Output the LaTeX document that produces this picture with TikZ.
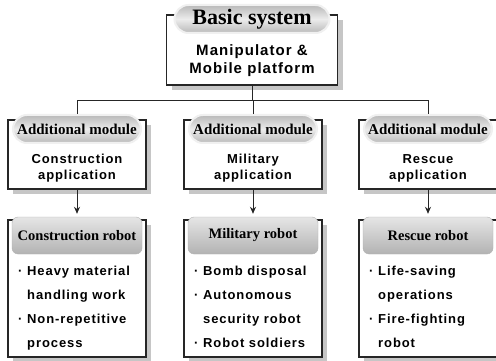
\documentclass[tikz,border=0pt]{standalone}
\usepackage{fontspec}
\setmainfont{Liberation Serif}
\newfontfamily\bodyfont[LetterSpace=7]{Liberation Sans}
\usepackage{tikz}
\usetikzlibrary{shapes,arrows,arrows.meta,positioning,shadows}

\newcommand{\itm}{\makebox[9pt][l]{·}}
\newcommand{\cont}{\hspace*{9pt}}

\begin{document}
\begin{tikzpicture}[
    x=1pt, y=-1pt,
    frame/.style={draw=black!85, line width=1.3pt, fill=white, minimum width=138pt, inner sep=0pt,
        drop shadow={shadow xshift=5pt, shadow yshift=-5pt, fill=gray!45, opacity=1}},
    pill/.style={draw=gray!12, line width=2pt, rounded corners=14pt, top color=gray!55, bottom color=gray!55, middle color=gray!15,
        minimum width=128pt, minimum height=28pt, inner sep=0pt, font=\bfseries\fontsize{15}{15}\selectfont},
    headbox/.style={draw=gray!60, thin, rounded corners=6pt, top color=gray!20, bottom color=gray!60,
        minimum width=130pt, minimum height=37pt, inner sep=0pt, font=\bfseries\fontsize{14.5}{14.5}\selectfont},
    modtext/.style={align=center, inner sep=0pt, font=\bodyfont\bfseries\fontsize{13}{16}\selectfont},
    itemtext/.style={align=left, anchor=north west, inner sep=0pt, font=\bodyfont\bfseries\fontsize{13}{24}\selectfont},
    line/.style={draw=black!85, line width=0.9pt},
    arrow/.style={-{Stealth[length=7pt,width=6pt]}, line width=0.9pt, color=black!85, shorten >=3pt}
]
    \useasboundingbox (0,0) rectangle (496,361);

    % basic system
    \node[frame, minimum width=171pt, minimum height=70pt] (base) at (252,50) {};
    \node[pill, minimum width=155pt, font=\bfseries\fontsize{22}{22}\selectfont] (basetitle) at (252,19) {Basic system};
    \node[modtext, font=\bodyfont\bfseries\fontsize{15}{18}\selectfont] (basetext) at (252,61) {Manipulator \&\\Mobile platform};

    % additional modules
    \node[frame, minimum height=69pt] (mod1) at (77,154.5) {};
    \node[pill] (mod1title) at (77,129) {Additional module};
    \node[modtext] (mod1text) at (77,168) {Construction\\application};

    \node[frame, minimum height=69pt] (mod2) at (253,154.5) {};
    \node[pill] (mod2title) at (253,129) {Additional module};
    \node[modtext] (mod2text) at (253,168) {Military\\application};

    \node[frame, minimum height=69pt] (mod3) at (428,154.5) {};
    \node[pill] (mod3title) at (428,129) {Additional module};
    \node[modtext] (mod3text) at (428,168) {Rescue\\application};

    % robots
    \node[frame, minimum height=137pt] (rob1) at (77,288.5) {};
    \node[headbox] (rob1head) at (77,235.5) {Construction robot};
    \node[itemtext] (rob1text) at (18,265.5) {\itm Heavy material\\\cont handling work\\\itm Non-repetitive\\\cont process};

    \node[frame, minimum height=137pt] (rob2) at (253,288.5) {};
    \node[headbox] (rob2head) at (253,235.5) {Military robot};
    \node[itemtext] (rob2text) at (194,265.5) {\itm Bomb disposal\\\itm Autonomous\\\cont security robot\\\itm Robot soldiers};

    \node[frame, minimum height=137pt] (rob3) at (428,288.5) {};
    \node[headbox] (rob3head) at (428,235.5) {Rescue robot};
    \node[itemtext] (rob3text) at (369,265.5) {\itm Life-saving\\\cont operations\\\itm Fire-fighting\\\cont robot};

    % connectors
    \coordinate (bus) at (253,100);
    \draw[line] (base.south) -- (base.south |- bus);
    \draw[line] (mod1title.north) -- (mod1title.north |- bus) -- (mod3title.north |- bus) -- (mod3title.north);
    \draw[line] (mod2title.north |- bus) -- (mod2title.north);

    \draw[arrow] (mod1) -- (rob1head);
    \draw[arrow] (mod2) -- (rob2head);
    \draw[arrow] (mod3) -- (rob3head);

\end{tikzpicture}
\end{document}
